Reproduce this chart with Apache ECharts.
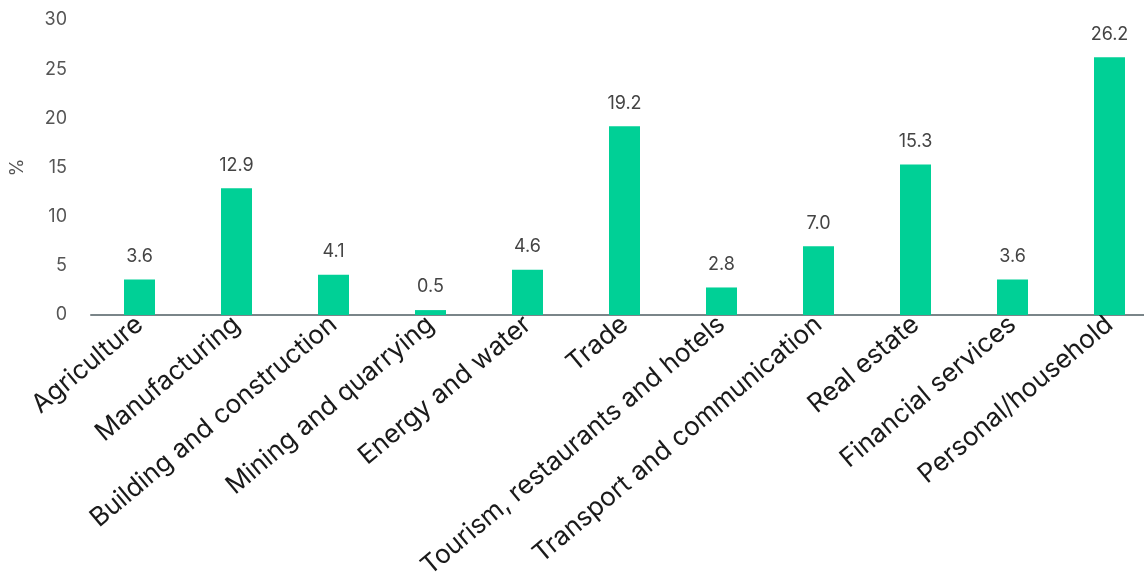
<!DOCTYPE html>
<html><head><meta charset="utf-8">
<script src="https://cdn.jsdelivr.net/npm/echarts@6/dist/echarts.min.js"></script>
<style>html,body{margin:0;padding:0;background:#fff;overflow:hidden}#c{width:1158px;height:586px}</style>
</head><body><div id="c"></div>
<script>
const categories = ["Agriculture","Manufacturing","Building and construction","Mining and quarrying","Energy and water","Trade","Tourism, restaurants and hotels","Transport and communication","Real estate","Financial services","Personal/household"];
const values = [3.6,12.9,4.1,0.5,4.6,19.2,2.8,7.0,15.3,3.6,26.2];
const yTicks = {min:0,max:30,interval:5};
const chart = echarts.init(document.getElementById('c'));
chart.setOption({
  animation:false,
  grid:{left:91,top:20,right:0,bottom:271,containLabel:false},
  xAxis:{type:'category',data:categories,
    axisLine:{lineStyle:{color:'#7a8589',width:2}},
    axisTick:{show:false},
    axisLabel:{rotate:40,interval:0,color:'#1a1a1a',fontSize:26,fontFamily:'Inter, sans-serif',margin:6}},
  yAxis:{type:'value',min:yTicks.min,max:yTicks.max,interval:yTicks.interval,
    name:'%',nameLocation:'middle',nameGap:64,nameTextStyle:{color:'#555',fontSize:18,fontFamily:'Inter, sans-serif'},
    axisLine:{show:false},axisTick:{show:false},splitLine:{show:false},
    axisLabel:{color:'#555',fontSize:18,fontFamily:'Inter, sans-serif',margin:24}},
  series:[{type:'bar',data:values,barWidth:31,itemStyle:{color:'#00d096'},
    label:{show:true,position:'top',distance:14,color:'#444',fontSize:18,fontFamily:'Inter, sans-serif',formatter:p=>p.value.toFixed(1)}}]
});
</script></body></html>
